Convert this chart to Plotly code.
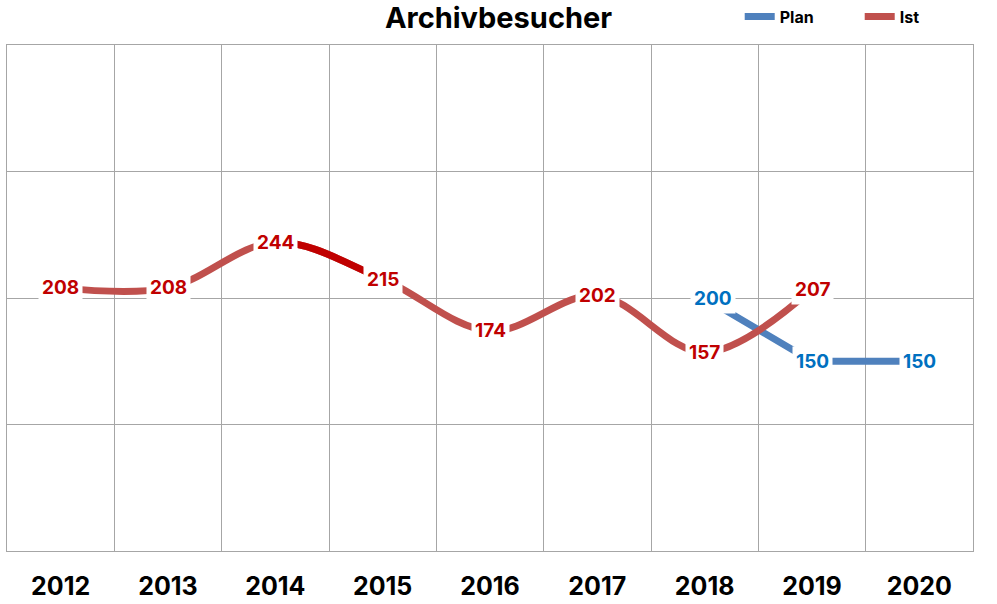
import plotly.graph_objects as go

# ---- data ----
years = ["2012", "2013", "2014", "2015", "2016", "2017", "2018", "2019", "2020"]
ist_years = ["2012", "2013", "2014", "2015", "2016", "2017", "2018", "2019"]
ist_values = [208, 208, 244, 215, 174, 202, 157, 207]
plan_years = ["2018", "2019", "2020"]
plan_values = [200, 150, 150]
# highlighted (darker) Ist segment: from 2014 to 2015
highlight_from, highlight_to = "2014", "2015"

IST_COLOR = "#C0504D"
IST_DARK = "#C00000"
PLAN_COLOR = "#4F81BD"
IST_LABEL = "#C00000"
PLAN_LABEL = "#0070C0"
GRID = "#A6A6A6"
FONT = "Inter"

n = len(years)
idx = {y: i for i, y in enumerate(years)}

fig = go.Figure()

fig.add_trace(go.Scatter(
    x=plan_years, y=plan_values, mode="lines", name="Plan",
    line=dict(color=PLAN_COLOR, width=7, shape="linear"),
    hoverinfo="skip"))

fig.add_trace(go.Scatter(
    x=ist_years, y=ist_values, mode="lines", name="Ist",
    line=dict(color=IST_COLOR, width=7, shape="spline", smoothing=1),
    hoverinfo="skip"))

# same Ist curve on an overlay subplot whose domain only spans 2014..2015,
# so that only that segment is shown (darker)
fig.add_trace(go.Scatter(
    x=ist_years, y=ist_values, mode="lines", name="Ist",
    line=dict(color=IST_DARK, width=7, shape="spline", smoothing=1),
    showlegend=False, hoverinfo="skip", xaxis="x2", yaxis="y2"))

annotations = []
for x, v in zip(ist_years, ist_values):
    annotations.append(dict(
        x=idx[x], y=v, text=str(v), showarrow=False, bgcolor="white",
        borderpad=3, font=dict(family=FONT, size=19, color=IST_LABEL, weight="bold")))
plan_xshift = [8, 0, 0]
for x, v, s in zip(plan_years, plan_values, plan_xshift):
    annotations.append(dict(
        x=idx[x], y=v, text=str(v), showarrow=False, bgcolor="white",
        borderpad=3, xshift=s,
        font=dict(family=FONT, size=19, color=PLAN_LABEL, weight="bold")))

d0 = (idx[highlight_from] + 0.5) / n
d1 = (idx[highlight_to] + 0.5) / n

fig.update_layout(
    width=997, height=604,
    margin=dict(l=7, r=24, t=45, b=53, autoexpand=False),
    paper_bgcolor="white", plot_bgcolor="rgba(0,0,0,0)",
    title=dict(text="Archivbesucher", x=0.5, xref="container", xanchor="center",
               y=0.97, yanchor="middle",
               font=dict(family=FONT, size=29, color="black", weight="bold")),
    showlegend=True,
    legend=dict(orientation="h", x=0.7585, xanchor="left", y=1.056, yanchor="middle",
                font=dict(family=FONT, size=16, color="black", weight="bold"),
                bgcolor="rgba(0,0,0,0)", traceorder="normal",
                entrywidth=75, entrywidthmode="pixels"),
    annotations=annotations,
    xaxis=dict(type="category", categoryorder="array", categoryarray=years,
               range=[-0.5, n - 0.5], tickson="boundaries", showgrid=True,
               gridcolor=GRID, gridwidth=1, ticks="", showline=True, mirror=True,
               linecolor=GRID, linewidth=1, ticklabelstandoff=13,
               tickfont=dict(family=FONT, size=25, color="black", weight="bold"),
               fixedrange=True),
    yaxis=dict(range=[0, 400], dtick=100, showgrid=True, gridcolor=GRID,
               gridwidth=1, showticklabels=False, zeroline=False, ticks="",
               showline=True, mirror=True, linecolor=GRID, linewidth=1,
               fixedrange=True),
    xaxis2=dict(type="category", categoryorder="array", categoryarray=years,
                domain=[d0, d1], range=[idx[highlight_from], idx[highlight_to]],
                visible=False, showgrid=False, anchor="y2", fixedrange=True),
    yaxis2=dict(range=[0, 400], domain=[0, 1], visible=False, showgrid=False,
                zeroline=False, anchor="x2", fixedrange=True),
)

fig.write_html("out.html", config={"displayModeBar": False},
               post_script="document.body.style.margin='0';document.body.style.overflow='hidden';")
